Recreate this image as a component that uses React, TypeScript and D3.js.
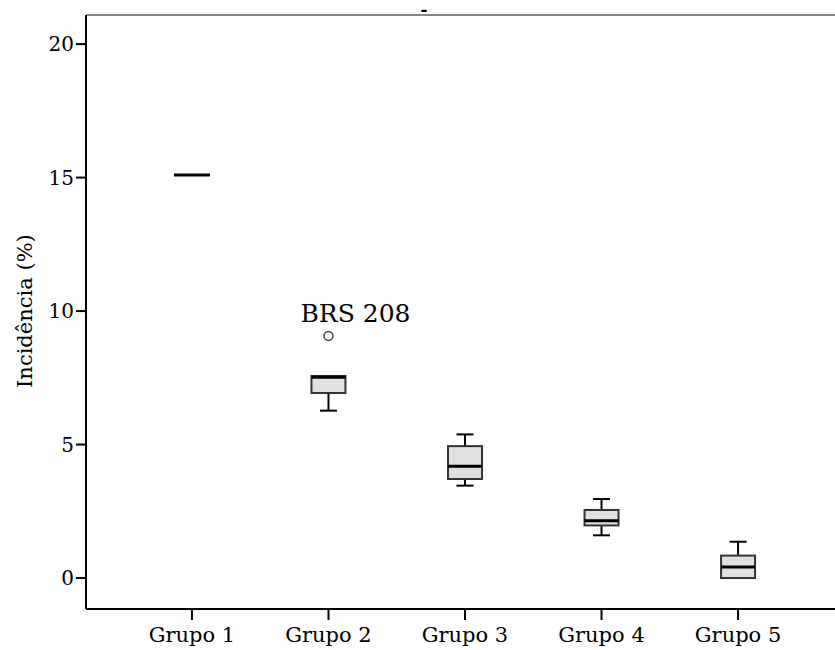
import * as d3 from "d3";

// box plot values (Incidência %)
const groups = ["Grupo 1", "Grupo 2", "Grupo 3", "Grupo 4", "Grupo 5"];
const whiskerLow = [15.1, 6.27, 3.46, 1.6, 0];
const q1 = [15.1, 6.93, 3.71, 1.97, 0];
const median = [15.1, 7.52, 4.19, 2.15, 0.41];
const q3 = [15.1, 7.57, 4.94, 2.55, 0.84];
const whiskerHigh = [15.1, 7.57, 5.38, 2.96, 1.36];
const outlierGroups = ["Grupo 2"];
const outlierValues = [9.07];
const outlierLabels = ["BRS 208"];
const yTicks = [0, 5, 10, 15, 20];

const W = 835;
const H = 650;
const left = 86;
const top = 15;
const bottom = 609;
const fontStyle = { fontFamily: "'DejaVu Serif', serif" };

export default function App() {
  const x = d3.scalePoint<string>().domain(groups).range([left, 844]).padding(0.776);
  const y = d3.scaleLinear().domain([-1.16, 21.09]).range([bottom, top]);
  const boxW = 34;
  const capW = 17;

  return (
    <svg width={W} height={H} style={{ position: "absolute", left: 0, top: 0, background: "#fff", ...fontStyle }}>
      {/* frame */}
      <line x1={left} x2={W} y1={top} y2={top} stroke="#888" strokeWidth={2} />
      <line x1={left} x2={left} y1={top} y2={bottom} stroke="#000" strokeWidth={2} />
      <line x1={left} x2={W} y1={bottom} y2={bottom} stroke="#000" strokeWidth={2} />
      <text x={424} y={15} textAnchor="middle" style={fontStyle} fontSize={17} fontWeight="bold">-</text>

      {/* y axis */}
      {yTicks.map((t) => (
        <g key={t}>
          <line x1={left - 10} x2={left} y1={y(t)} y2={y(t)} stroke="#000" strokeWidth={2} />
          <text x={left - 12} y={y(t)} dy="0.36em" textAnchor="end" style={fontStyle} fontSize={20}>{t}</text>
        </g>
      ))}
      <text transform={`translate(32,${y(10)}) rotate(-90)`} textAnchor="middle" style={fontStyle} fontSize={21}>Incidência (%)</text>

      {/* x axis */}
      {groups.map((g) => (
        <g key={g}>
          <line x1={x(g)} x2={x(g)} y1={bottom} y2={bottom + 11} stroke="#000" strokeWidth={2} />
          <text x={x(g)} y={642} textAnchor="middle" style={fontStyle} fontSize={21}>{g}</text>
        </g>
      ))}

      {/* boxes */}
      {groups.map((g, i) => {
        const cx = x(g) as number;
        if (q1[i] === q3[i] && whiskerLow[i] === whiskerHigh[i]) {
          return <line key={g} x1={cx - 18} x2={cx + 18} y1={y(median[i])} y2={y(median[i])} stroke="#000" strokeWidth={3} />;
        }
        return (
          <g key={g}>
            <line x1={cx} x2={cx} y1={y(whiskerHigh[i])} y2={y(q3[i])} stroke="#000" strokeWidth={2} />
            <line x1={cx} x2={cx} y1={y(q1[i])} y2={y(whiskerLow[i])} stroke="#000" strokeWidth={2} />
            {whiskerHigh[i] > q3[i] && (
              <line x1={cx - capW / 2} x2={cx + capW / 2} y1={y(whiskerHigh[i])} y2={y(whiskerHigh[i])} stroke="#000" strokeWidth={2} />
            )}
            {whiskerLow[i] < q1[i] && (
              <line x1={cx - capW / 2} x2={cx + capW / 2} y1={y(whiskerLow[i])} y2={y(whiskerLow[i])} stroke="#000" strokeWidth={2} />
            )}
            <rect x={cx - boxW / 2} y={y(q3[i])} width={boxW} height={y(q1[i]) - y(q3[i])} fill="#e0e0e0" stroke="#333" strokeWidth={2} />
            <line x1={cx - boxW / 2} x2={cx + boxW / 2} y1={y(median[i])} y2={y(median[i])} stroke="#000" strokeWidth={3} />
          </g>
        );
      })}

      {/* outliers */}
      {outlierGroups.map((g, i) => (
        <g key={g + i}>
          <circle cx={x(g)} cy={y(outlierValues[i])} r={4.5} fill="#fff" stroke="#444" strokeWidth={1.5} />
          <text x={(x(g) as number) - 28} y={y(outlierValues[i]) - 14} style={fontStyle} fontSize={25}>{outlierLabels[i]}</text>
        </g>
      ))}
    </svg>
  );
}
